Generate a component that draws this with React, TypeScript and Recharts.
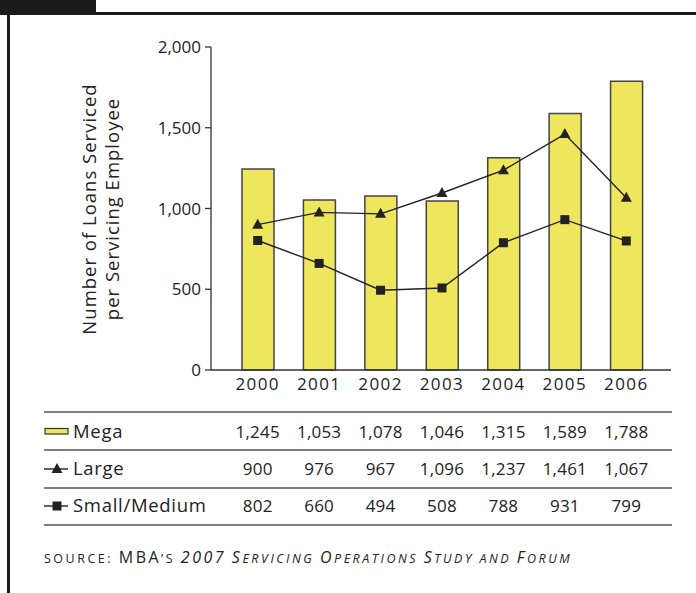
import { ComposedChart, Bar, Line, XAxis, YAxis } from 'recharts';

const years = ['2000', '2001', '2002', '2003', '2004', '2005', '2006'];
const mega = [1245, 1053, 1078, 1046, 1315, 1589, 1788];
const large = [900, 976, 967, 1096, 1237, 1461, 1067];
const smallMedium = [802, 660, 494, 508, 788, 931, 799];
const yTicks = [0, 500, 1000, 1500, 2000];

const data = years.map((year, i) => ({
  year,
  mega: mega[i],
  large: large[i],
  smallMedium: smallMedium[i],
}));

const FONT = '"Open Sans", "Noto Sans", sans-serif';
const INK = '#222';
const YELLOW = '#EEE65C';

const fmt = (v: number) => v.toLocaleString('en-US');

// year label + the three table values, stacked under each category
function TableTick(props: any) {
  const { x, y, payload, index } = props;
  const i = index ?? years.indexOf(payload.value);
  const rows = [payload.value, fmt(mega[i]), fmt(large[i]), fmt(smallMedium[i])];
  const offsets = [20, 68, 105, 142];
  return (
    <g>
      {rows.map((t, k) => (
        <text
          key={k}
          x={x}
          y={y + offsets[k]}
          textAnchor="middle"
          fontSize={17}
          letterSpacing={k === 0 ? 1.4 : 0.2}
          fontFamily={FONT}
          fill={INK}
        >
          {t}
        </text>
      ))}
    </g>
  );
}

function Triangle(props: any) {
  const { cx, cy } = props;
  if (cx == null || cy == null) return null;
  return <path d={`M${cx},${cy - 6} L${cx + 5.5},${cy + 4} L${cx - 5.5},${cy + 4} Z`} fill={INK} />;
}

function Square(props: any) {
  const { cx, cy } = props;
  if (cx == null || cy == null) return null;
  return <rect x={cx - 4.5} y={cy - 4.5} width={9} height={9} fill={INK} />;
}

function YLabel() {
  return (
    <text transform="translate(96,209) rotate(-90)" textAnchor="middle" fontSize={18.5} letterSpacing={1} fontFamily={FONT} fill={INK}>
      <tspan x={0} dy={0}>Number of Loans Serviced</tspan>
      <tspan x={0} dy={23}>per Servicing Employee</tspan>
    </text>
  );
}

// hand-made small caps: capitals at full size, the rest uppercased at a smaller size
function SmallCaps({ text }: { text: string }) {
  const parts = text.split(/([A-Z0-9]+)/).filter((p) => p.length > 0);
  return (
    <>
      {parts.map((p, k) =>
        /^[A-Z0-9]+$/.test(p) ? (
          <tspan key={k} fontSize={16}>{p}</tspan>
        ) : (
          <tspan key={k} fontSize={12.5}>{p.toUpperCase()}</tspan>
        )
      )}
    </>
  );
}

export default function App() {
  const rowLines = [412, 450, 488, 525];
  return (
    <div style={{ position: 'absolute', left: 0, top: 0, width: 696, height: 593, background: '#fff', overflow: 'hidden' }}>
      <svg width={696} height={593} style={{ position: 'absolute', left: 0, top: 0 }}>
        <rect x={0} y={0} width={96} height={13} fill="#1a1a1a" />
        <rect x={0} y={12} width={696} height={3} fill="#1a1a1a" />
        <rect x={7} y={12} width={3} height={581} fill="#1a1a1a" />
        {rowLines.map((y) => (
          <line key={y} x1={44} x2={672} y1={y} y2={y} stroke="#555" strokeWidth={1.4} />
        ))}
        <rect x={45} y={428.5} width={23} height={5.5} fill={YELLOW} stroke="#333" strokeWidth={1.2} />
        <line x1={44} x2={68} y1={469} y2={469} stroke={INK} strokeWidth={1.4} />
        <Triangle cx={57} cy={469} />
        <line x1={44} x2={68} y1={506} y2={506} stroke={INK} strokeWidth={1.4} />
        <Square cx={57} cy={506} />
        <g fontFamily={FONT} fontSize={18.5} fill={INK} letterSpacing={0.7}>
          <text x={73} y={438}>Mega</text>
          <text x={73} y={475}>Large</text>
          <text x={73} y={512}>Small/Medium</text>
        </g>
        <text x={44} y={563} fontFamily={FONT} fill={INK} letterSpacing={2.5}>
          <SmallCaps text="source: MBA’s " />
          <tspan fontStyle="italic">
            <SmallCaps text="2007 Servicing Operations Study and Forum" />
          </tspan>
        </text>
        <YLabel />
      </svg>
      <div style={{ position: 'absolute', left: 0, top: 0 }}>
        <ComposedChart width={696} height={540} data={data} margin={{ top: 47, right: 25, left: 0, bottom: 0 }}>
          <XAxis
            dataKey="year"
            height={170}
            tickSize={0}
            tickMargin={0}
            tickLine={false}
            interval={0}
            padding={{ left: 16, right: 14 }}
            axisLine={{ stroke: '#333', strokeWidth: 1.3 }}
            tick={<TableTick />}
          />
          <YAxis
            width={211}
            domain={[0, 2000]}
            ticks={yTicks}
            tickFormatter={fmt}
            tickSize={6}
            tickMargin={4}
            axisLine={{ stroke: '#333', strokeWidth: 1.3 }}
            tickLine={{ stroke: '#333', strokeWidth: 1.3 }}
            tick={{ fontSize: 17, fontFamily: FONT, fill: INK }}
          />
          <Bar dataKey="mega" barSize={32} fill={YELLOW} stroke="#444" strokeWidth={1.5} isAnimationActive={false} />
          <Line dataKey="large" stroke={INK} strokeWidth={1.4} dot={<Triangle />} activeDot={false} isAnimationActive={false} />
          <Line dataKey="smallMedium" stroke={INK} strokeWidth={1.4} dot={<Square />} activeDot={false} isAnimationActive={false} />
        </ComposedChart>
      </div>
    </div>
  );
}
